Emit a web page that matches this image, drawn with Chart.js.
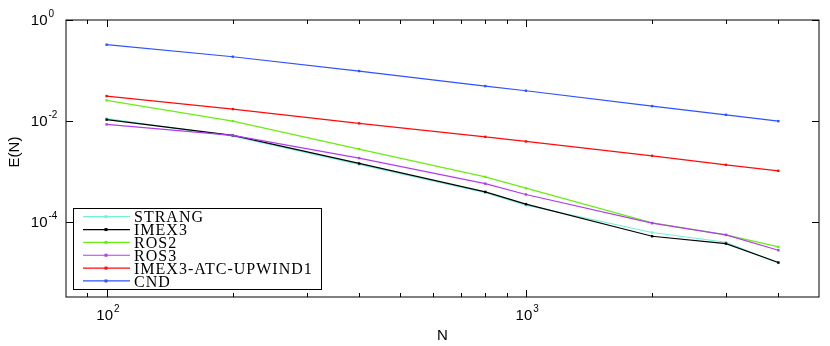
<!DOCTYPE html>
<html>
<head>
<meta charset="utf-8">
<script src="https://cdn.jsdelivr.net/npm/chart.js@4"></script>
<style>
  html, body { margin: 0; padding: 0; background: #fff; }
  canvas { display: block; }
</style>
</head>
<body>
<canvas id="errChart" width="830" height="346"></canvas>
<script>
// ------------------------------
// Data
// ------------------------------
const nValues = [100, 200, 400, 800, 1000, 2000, 3000, 4000];

const strang = [0.01114, 0.00501, 0.00138, 0.00038, 0.000215, 6.17e-5, 3.96e-5, 1.54e-5];
const imex3 = [0.01064, 0.00517, 0.00144, 0.000394, 0.000225, 5.21e-5, 3.73e-5, 1.57e-5];
const ros2 = [0.0256, 0.00993, 0.00277, 0.00078, 0.000467, 9.57e-5, 5.53e-5, 3.2e-5];
const ros3 = [0.00855, 0.00517, 0.00184, 0.000573, 0.00035, 9.44e-5, 5.53e-5, 2.75e-5];
const imex3Atc = [0.0311, 0.01718, 0.00895, 0.00485, 0.00393, 0.00204, 0.00135, 0.00103];
const cnd = [0.324, 0.187, 0.0975, 0.0491, 0.0397, 0.0197, 0.01325, 0.00993];

const seriesNames = ["STRANG", "IMEX3", "ROS2", "ROS3", "IMEX3-ATC-UPWIND1", "CND"];
const seriesValues = [strang, imex3, ros2, ros3, imex3Atc, cnd];
const seriesColors = ["#74f2d6", "#000000", "#6aee10", "#b03cf2", "#ff0a0a", "#2f52ff"];

// axis ranges and tick labels
const xMin = 80, xMax = 5000;
const yMin = 3.26e-6, yMax = 1;
const xMajorTicks = [100, 1000];
const xMajorExps = ["2", "3"];
const yMajorTicks = [1, 1e-2, 1e-4];
const yMajorExps = ["0", "-2", "-4"];

const xTitle = "N";
const yTitle = "E(N)";

// ------------------------------
// Helpers
// ------------------------------
const sansFont = "'Liberation Sans', Arial, sans-serif";
const serifFont = "'Liberation Serif', 'Times New Roman', serif";

function drawPower(ctx, exp, x, y, mode) {
    // draws "10" with a superscript exponent
    ctx.save();
    ctx.fillStyle = "#000";
    ctx.textBaseline = "middle";
    ctx.font = "15px " + sansFont;
    const baseW = ctx.measureText("10").width;
    ctx.font = "10px " + sansFont;
    const expW = ctx.measureText(exp).width;
    let baseLeft;
    if (mode === "y") {
        baseLeft = x - 18.5 - baseW;
    } else {
        baseLeft = x - 2 - baseW / 2;
    }
    ctx.font = "15px " + sansFont;
    ctx.textAlign = "left";
    ctx.fillText("10", baseLeft, y + 1);
    ctx.font = "10px " + sansFont;
    ctx.fillText(exp, baseLeft + baseW + 1, y - 6);
    ctx.restore();
}

// ------------------------------
// Frame, ticks, labels, legend
// ------------------------------
const framePlugin = {
    id: "frame",
    afterDatasetsDraw(chart) {
        const ctx = chart.ctx;
        const area = chart.chartArea;
        const xs = chart.scales.x;
        const ys = chart.scales.y;

        ctx.save();
        ctx.strokeStyle = "#000";
        ctx.lineWidth = 1;

        // box
        ctx.strokeRect(area.left, area.top, area.right - area.left, area.bottom - area.top);

        // x ticks (major + minor), inward at top and bottom
        ctx.beginPath();
        for (let dec = 10; dec <= 1000; dec *= 10) {
            for (let m = 1; m <= 9; m++) {
                const v = dec * m;
                if (v <= xMin || v >= xMax) continue;
                const px = Math.round(xs.getPixelForValue(v)) + 0.5;
                const len = (m === 1) ? 7 : 4;
                ctx.moveTo(px, area.bottom);
                ctx.lineTo(px, area.bottom - len);
                ctx.moveTo(px, area.top);
                ctx.lineTo(px, area.top + len);
            }
        }
        // y ticks (major only), inward at left and right
        yMajorTicks.forEach(v => {
            const py = Math.round(ys.getPixelForValue(v)) + 0.5;
            ctx.moveTo(area.left, py);
            ctx.lineTo(area.left + 7, py);
            ctx.moveTo(area.right, py);
            ctx.lineTo(area.right - 7, py);
        });
        ctx.stroke();

        // tick labels
        xMajorTicks.forEach((v, i) => {
            drawPower(ctx, xMajorExps[i], xs.getPixelForValue(v), 315, "x");
        });
        yMajorTicks.forEach((v, i) => {
            drawPower(ctx, yMajorExps[i], area.left, ys.getPixelForValue(v), "y");
        });

        // axis titles
        ctx.fillStyle = "#000";
        ctx.font = "15px " + sansFont;
        ctx.textAlign = "center";
        ctx.textBaseline = "middle";
        ctx.fillText(xTitle, (area.left + area.right) / 2, 335.5);
        ctx.save();
        ctx.translate(15, 152);
        ctx.rotate(-Math.PI / 2);
        ctx.fillText(yTitle, 0, 0);
        ctx.restore();

        // legend
        const boxL = 73.5, boxT = 208.5, boxR = 321.5, boxB = 289.5;
        ctx.fillStyle = "#fff";
        ctx.fillRect(boxL, boxT, boxR - boxL, boxB - boxT);
        ctx.strokeStyle = "#000";
        ctx.strokeRect(boxL, boxT, boxR - boxL, boxB - boxT);
        ctx.font = "16px " + serifFont;
        ctx.textAlign = "left";
        ctx.textBaseline = "alphabetic";
        ctx.letterSpacing = "1px";
        seriesNames.forEach((name, i) => {
            const rowY = 216.7 + i * 12.85;
            ctx.strokeStyle = seriesColors[i];
            ctx.lineWidth = 1.2;
            ctx.beginPath();
            ctx.moveTo(83, rowY);
            ctx.lineTo(130, rowY);
            ctx.stroke();
            ctx.fillStyle = seriesColors[i];
            ctx.fillRect(104.5, rowY - 1.5, 3, 3);
            ctx.fillStyle = "#000";
            ctx.fillText(name, 134, rowY + 5.6);
        });
        ctx.restore();
    }
};

// ------------------------------
// Chart
// ------------------------------
const datasets = seriesNames.map((name, i) => ({
    label: name,
    data: nValues.map((n, k) => ({ x: n, y: seriesValues[i][k] })),
    borderColor: seriesColors[i],
    backgroundColor: seriesColors[i],
    borderWidth: 1.2,
    pointRadius: 1.7,
    pointBorderWidth: 0,
    pointStyle: "rect",
    fill: false,
    tension: 0,
    order: seriesNames.length - i
}));

const errChart = new Chart(
    document.getElementById("errChart"),
    {
        type: "line",
        data: { datasets: datasets },
        options: {
            responsive: false,
            animation: false,
            devicePixelRatio: 1,
            layout: {
                padding: { left: 66, right: 11, top: 20, bottom: 49 }
            },
            plugins: {
                legend: { display: false },
                tooltip: { enabled: false }
            },
            scales: {
                x: { type: "logarithmic", min: xMin, max: xMax, display: false },
                y: { type: "logarithmic", min: yMin, max: yMax, display: false }
            }
        },
        plugins: [framePlugin]
    }
);
</script>
</body>
</html>
